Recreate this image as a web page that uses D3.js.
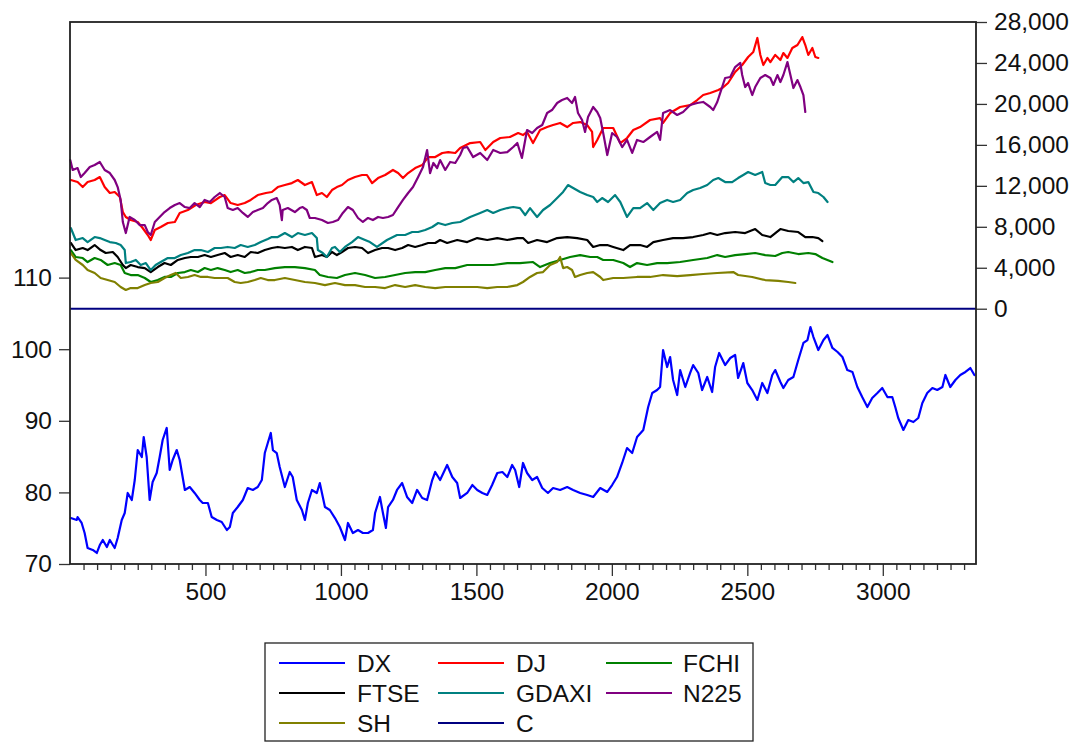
<!DOCTYPE html>
<html>
<head>
<meta charset="utf-8">
<script src="https://cdn.jsdelivr.net/npm/d3@7"></script>
<style>
  html, body { margin: 0; padding: 0; background: #fff; }
  svg { display: block; }
  text { font-family: "Liberation Sans", Arial, sans-serif; font-size: 24.5px; fill: #111; }
</style>
</head>
<body>
<svg id="chart" width="1082" height="743"></svg>
<script>
// Observation number and value pairs for each series.
// DX is on the left axis, the stock indices and C on the right axis.
const DX = [
  [3,76.42],[25,76.15],[28,76.56],[43,75.73],[54,74.33],[65,72.23],[84,71.96],[99,71.54],[110,72.65],[121,73.35],
  [136,72.37],[147,73.35],[165,72.23],[176,73.63],[191,76.15],[202,77.12],[213,79.92],[228,78.94],
  [239,81.73],[250,85.92],[265,84.94],[272,87.74],[283,84.94],[294,78.94],[305,81.45],[320,82.71],[331,84.94],
  [342,87.32],[357,89.00],[368,83.13],[379,84.53],[394,85.92],[405,84.53],[424,80.34],[442,80.75],[460,79.92],[479,78.94],
  [490,78.52],[509,78.52],[523,76.56],[542,76.15],[560,75.87],[579,74.75],[590,75.17],[601,77.12],[619,77.96],[638,78.94],
  [656,80.61],[675,80.34],[693,80.75],[708,81.73],[719,85.50],[730,86.90],[741,88.30],[749,85.92],[763,85.50],
  [774,83.55],[793,80.75],[811,82.85],[822,82.15],[837,78.94],[856,77.54],[867,76.15],[878,78.52],[893,80.34],[911,79.92],
  [922,81.31],[941,77.96],[959,77.54],[978,76.42],[996,75.17],[1015,73.35],[1026,75.73],[1044,74.33],[1063,74.75],
  [1081,74.33],[1100,74.33],[1118,74.75],[1126,77.12],[1144,79.36],[1155,77.12],[1166,75.03],[1174,77.96],[1192,78.94],
  [1207,80.34],[1226,81.31],[1244,79.36],[1263,78.52],[1281,80.34],[1300,79.22],[1318,78.94],[1337,81.73],[1348,82.85],
  [1366,81.73],[1392,83.83],[1411,82.15],[1429,81.31],[1440,79.22],[1466,79.92],[1485,81.03],[1503,80.34],[1522,79.92],[1540,79.64],
  [1558,81.03],[1577,82.71],[1596,82.85],[1614,82.15],[1632,83.83],[1643,83.13],[1658,80.75],[1672,84.11],[1687,82.71],[1706,81.73],
  [1724,82.15],[1743,80.61],[1764,79.92],[1783,80.61],[1809,80.34],[1835,80.75],[1857,80.34],[1883,79.92],[1909,79.64],
  [1931,79.36],[1957,80.61],[1983,80.06],[2001,81.03],[2019,82.15],[2038,84.11],[2056,86.20],[2075,85.50],[2093,87.74],
  [2116,88.72],[2134,91.93],[2149,93.88],[2167,94.30],[2178,94.72],[2189,99.89],[2204,97.51],[2215,98.91],[2226,95.70],
  [2241,93.60],[2252,97.09],[2271,94.72],[2289,96.68],[2300,97.79],[2319,96.68],[2333,94.30],[2352,96.12],[2370,94.02],[2381,97.51],
  [2396,99.47],[2418,97.79],[2437,98.77],[2455,99.19],[2466,95.98],[2485,98.07],[2500,95.28],[2518,94.30],[2537,92.91],
  [2555,95.28],[2574,93.88],[2592,96.40],[2603,97.09],[2622,95.42],[2633,94.58],[2651,95.70],[2670,96.12],[2688,98.49],
  [2707,100.87],[2722,101.28],[2733,103.10],[2744,101.70],[2762,99.89],[2781,101.28],[2796,101.98],[2814,100.17],[2833,99.61],
  [2851,98.91],[2869,97.09],[2888,96.82],[2906,94.72],[2924,93.32],[2943,91.93],[2961,93.18],[2980,93.88],[2998,94.58],[3017,93.32],
  [3035,93.32],[3046,91.93],[3057,90.39],[3076,88.72],[3094,90.11],[3113,89.83],[3131,90.39],[3146,92.49],[3164,93.88],
  [3183,94.58],[3201,94.30],[3220,94.72],[3231,96.40],[3249,94.72],[3268,95.70],[3286,96.40],[3305,96.82],[3323,97.37],[3338,96.40]
];

const DJ = [
  [3,12570],[28,12370],[47,11880],[65,12370],[91,12570],[110,12860],[128,11880],[147,11300],[165,11400],[184,10910],
  [195,9440],[206,8960],[224,8660],[250,8470],[268,7880],[287,7200],[298,6710],[313,7690],[335,7980],[361,8370],
  [387,8470],[405,9350],[435,9640],[464,10130],[497,10420],[520,10320],[553,10910],[571,11100],[593,10320],[619,10130],
  [645,10320],[667,10620],[693,11100],[723,11300],[745,11400],[767,11880],[793,12080],[819,12270],[841,12570],[867,12080],
  [893,12370],[911,11100],[930,11300],[948,10910],[967,11590],[985,11880],[1004,12080],[1026,12570],[1052,12860],[1078,13060],
  [1096,13060],[1115,12270],[1137,12760],[1163,13060],[1192,13550],[1211,13250],[1229,12760],[1248,13250],[1274,13740],[1300,14030],
  [1322,14810],[1348,14810],[1374,15210],[1396,15300],[1422,15210],[1440,15690],[1477,16180],[1514,16280],[1533,15500],[1562,16280],
  [1588,16670],[1624,16770],[1654,17160],[1672,16960],[1687,17260],[1709,16180],[1735,17450],[1761,17740],[1783,17940],[1809,18140],
  [1835,17740],[1857,18140],[1883,18230],[1909,17940],[1927,17260],[1931,15790],[1946,16480],[1968,17650],[2005,17650],[2031,16180],
  [2056,16670],[2079,17450],[2104,17740],[2141,18430],[2178,18620],[2189,18140],[2215,19110],[2252,19700],[2289,19890],[2315,20380],
  [2337,20870],[2363,21070],[2393,21360],[2407,21550],[2429,22040],[2455,23120],[2481,23800],[2503,24580],[2522,25070],[2537,26440],
  [2548,24780],[2559,23800],[2574,24490],[2585,24090],[2603,24780],[2622,24290],[2633,24970],[2648,24490],[2666,25460],[2685,25750],
  [2703,26530],[2714,25750],[2725,24780],[2740,25460],[2751,24580],[2762,24490]
];

const FCHI = [
  [3,5730],[21,5050],[47,4950],[65,4560],[91,4950],[113,4760],[139,4270],[165,4460],[187,4270],[202,3490],
  [224,3290],[250,3290],[276,3000],[298,2610],[324,2800],[349,3100],[372,3100],[398,3490],[424,3580],[446,3780],
  [472,3580],[497,3970],[520,3780],[545,3970],[571,3780],[593,3580],[619,3780],[645,3490],[667,3580],[693,3780],
  [719,3780],[756,3970],[793,4070],[830,4070],[867,3970],[904,3780],[922,3290],[952,3100],[985,3000],[1015,3290],
  [1052,3490],[1089,3290],[1126,3000],[1163,3100],[1200,3290],[1237,3490],[1274,3580],[1311,3580],[1348,3780],[1385,3970],
  [1422,3970],[1466,4270],[1514,4270],[1562,4270],[1614,4460],[1661,4460],[1709,4560],[1735,4070],[1772,4460],[1809,4760],
  [1846,5050],[1883,5240],[1920,5050],[1946,5050],[1968,4760],[2005,4760],[2042,4460],[2067,4070],[2093,4460],[2130,4270],
  [2167,4460],[2204,4460],[2252,4560],[2300,4760],[2352,4950],[2389,5240],[2418,5050],[2455,5240],[2492,5340],[2529,5440],
  [2566,5240],[2603,5150],[2629,5440],[2651,5540],[2688,5340],[2725,5440],[2751,5340],[2777,4950],[2814,4560]
];

const FTSE = [
  [3,6420],[21,5730],[47,5930],[65,5730],[91,6220],[113,5730],[132,5440],[158,5540],[176,5050],[195,4270],
  [206,3970],[224,4270],[250,4070],[276,3970],[298,3580],[324,4070],[349,4460],[372,4270],[398,4760],[424,4950],
  [446,5050],[472,5050],[497,5240],[520,5050],[545,5240],[571,5440],[593,5050],[619,5240],[645,5050],[667,5540],
  [693,5440],[719,5730],[745,5930],[767,6030],[793,5930],[819,6030],[841,5730],[867,6030],[893,5930],[904,5050],
  [930,5240],[948,5050],[967,5540],[985,5240],[1004,5540],[1026,5930],[1052,6030],[1078,5930],[1100,5440],[1126,5730],
  [1152,5930],[1174,5930],[1200,5730],[1226,5930],[1248,6220],[1274,6030],[1300,6220],[1322,6420],[1348,6420],[1366,6710],
  [1392,6420],[1429,6710],[1466,6510],[1503,6900],[1540,6710],[1577,6900],[1614,6710],[1651,6900],[1672,6900],[1691,6420],
  [1724,6710],[1761,6510],[1798,6900],[1835,7000],[1872,6900],[1909,6710],[1931,6030],[1957,6220],[1983,6220],[2005,6030],
  [2042,5730],[2067,6220],[2104,6220],[2130,6030],[2153,6510],[2189,6710],[2226,6900],[2263,6900],[2300,7000],[2337,7200],
  [2363,7390],[2389,7200],[2418,7390],[2455,7490],[2492,7390],[2529,7780],[2555,7200],[2585,7000],[2622,7780],[2651,7590],
  [2688,7490],[2714,7000],[2740,7000],[2762,6900],[2777,6610]
];

const GDAXI = [
  [3,7880],[21,6710],[47,6900],[65,6510],[91,7000],[110,6900],[128,6710],[147,6510],[169,6420],[187,6220],
  [202,5730],[206,4460],[224,4560],[243,4760],[261,4270],[280,4460],[298,3780],[316,4270],[335,4560],[361,4950],
  [387,4950],[409,5240],[435,5440],[460,5730],[483,5730],[509,5540],[534,5930],[557,5930],[582,6030],[608,5930],
  [630,6220],[656,6030],[682,6220],[704,6510],[730,6810],[745,7000],[767,7000],[793,7390],[819,7000],[841,7390],
  [867,7200],[893,7390],[911,6900],[915,5730],[933,5440],[948,5050],[967,5930],[978,6030],[996,5540],[1015,6030],
  [1041,6510],[1063,7000],[1089,6710],[1107,6510],[1133,6030],[1170,6710],[1207,7200],[1237,7200],[1263,7490],[1285,7490],
  [1311,7690],[1337,7980],[1359,8370],[1385,8170],[1411,8370],[1440,8470],[1477,8960],[1514,9350],[1540,9640],[1562,9350],
  [1588,9640],[1614,9830],[1636,9930],[1661,9830],[1680,9150],[1698,9830],[1724,8960],[1746,9640],[1772,10130],[1798,10810],
  [1820,11400],[1838,12080],[1857,11790],[1883,11400],[1909,11100],[1931,10910],[1946,10420],[1964,10810],[1986,10420],[2012,11100],
  [2031,10420],[2056,8960],[2079,9830],[2104,9830],[2130,10320],[2153,9640],[2178,10320],[2204,10620],[2226,10420],[2252,10620],
  [2278,11300],[2300,11590],[2326,11790],[2352,12080],[2374,12570],[2393,12760],[2418,12370],[2444,12370],[2466,12760],[2485,13060],
  [2503,13350],[2529,13060],[2555,13350],[2566,12270],[2585,12080],[2603,12080],[2629,12860],[2651,12860],[2670,12370],[2688,12760],
  [2707,12270],[2725,12370],[2744,11400],[2762,11300],[2781,10910],[2796,10420]
];

const N225 = [
  [1,14520],[10,13550],[28,13740],[40,12860],[54,13250],[73,13840],[91,14030],[110,14330],[128,13550],[147,13250],
  [165,12570],[176,11880],[187,10620],[195,8470],[206,7390],[220,8960],[239,8660],[257,8170],[276,8170],[287,7490],
  [298,7200],[313,8470],[331,8960],[349,9440],[368,9830],[387,10130],[405,10320],[424,9930],[442,9830],[460,10320],
  [479,9930],[497,10620],[516,10420],[534,10910],[553,11300],[571,10910],[582,9830],[601,9640],[619,9830],[638,9350],
  [656,8960],[675,9440],[693,9640],[712,9830],[730,10320],[745,10620],[763,10810],[774,10130],[782,8660],[785,9640],
  [804,9830],[830,9440],[848,9830],[859,9930],[874,9640],[885,8860],[904,8860],[930,8660],[952,8370],[970,8470],
  [989,8660],[1007,9350],[1026,9930],[1044,9640],[1063,8860],[1081,8470],[1100,8860],[1118,8660],[1137,8960],[1155,8860],
  [1174,8960],[1192,9150],[1211,9930],[1229,10620],[1248,11300],[1266,11880],[1285,12860],[1303,13840],[1318,15500],[1329,13250],
  [1341,14230],[1355,13740],[1366,14520],[1385,13550],[1403,14330],[1422,14230],[1440,15010],[1451,15690],[1466,15790],[1488,14810],
  [1514,15210],[1540,14520],[1562,15500],[1588,15210],[1614,15300],[1636,15790],[1651,16180],[1668,14720],[1687,17450],[1706,17160],
  [1724,17650],[1743,17940],[1761,19110],[1779,19400],[1798,20090],[1816,20380],[1835,20580],[1853,20090],[1864,20680],[1875,19110],
  [1890,18430],[1901,17260],[1912,18720],[1931,19700],[1946,19210],[1957,18620],[1968,17160],[1983,15010],[2001,17160],[2019,16770],
  [2038,15790],[2056,16480],[2075,15210],[2093,16480],[2116,16280],[2141,16770],[2167,17260],[2178,16480],[2189,19110],[2215,19400],
  [2241,18920],[2263,19210],[2289,19890],[2315,20090],[2337,20190],[2363,19700],[2374,19400],[2389,20190],[2400,21070],[2418,22530],
  [2437,22630],[2455,23600],[2474,24000],[2481,22820],[2492,21650],[2503,22040],[2518,20870],[2529,21650],[2548,22530],[2566,22820],
  [2585,22530],[2596,21850],[2611,22820],[2622,22140],[2633,22820],[2648,24090],[2659,22820],[2670,21550],[2685,22330],[2696,21650],
  [2707,20870],[2714,19210]
];

const SH = [
  [3,5440],[21,4760],[47,4270],[65,3780],[91,3490],[113,3000],[139,2800],[165,2610],[187,2120],[206,1830],
  [224,2020],[250,2020],[276,2310],[298,2510],[324,2610],[349,3000],[372,3290],[390,3490],[409,3000],[435,3100],
  [460,3290],[483,3100],[509,3100],[534,3000],[557,3000],[582,3000],[608,2610],[630,2510],[656,2610],[682,2800],
  [704,3000],[730,2800],[756,2800],[793,3000],[830,2800],[867,2610],[904,2510],[941,2310],[978,2510],[1015,2310],
  [1052,2310],[1089,2120],[1126,2120],[1163,2020],[1200,2310],[1237,2120],[1274,2310],[1311,2120],[1348,2020],[1385,2120],
  [1429,2120],[1466,2120],[1503,2120],[1540,2020],[1577,2120],[1614,2120],[1651,2310],[1672,2610],[1698,3100],[1724,3490],
  [1746,3580],[1772,4270],[1798,4560],[1809,5050],[1820,3970],[1835,4070],[1853,3780],[1864,3100],[1883,3290],[1909,3490],
  [1931,3580],[1957,3100],[1968,2800],[2005,3000],[2042,3000],[2093,3100],[2141,3100],[2189,3290],[2241,3190],[2289,3290],
  [2337,3390],[2389,3490],[2448,3580],[2466,3290],[2518,3100],[2566,2800],[2614,2710],[2651,2610],[2677,2510]
];

// Constant series C, plotted as a flat line across every observation.
const C_VALUE = [0];

const OBS_TICKS_MAJOR = [500, 1000, 1500, 2000, 2500, 3000];
const LEFT_TICKS = [70, 80, 90, 100, 110];
const RIGHT_TICKS = [0, 4000, 8000, 12000, 16000, 20000, 24000, 28000];

const NOBS = 3344;
const LEFT_DOMAIN = [70, 145.7];
const RIGHT_DOMAIN = [-24930, 28000];

const legendItems = [
  { name: "DX", color: "#0000ff" },
  { name: "DJ", color: "#ff0000" },
  { name: "FCHI", color: "#008000" },
  { name: "FTSE", color: "#000000" },
  { name: "GDAXI", color: "#008080" },
  { name: "N225", color: "#800080" },
  { name: "SH", color: "#808000" },
  { name: "C", color: "#000080" }
];
const colorOf = Object.fromEntries(legendItems.map(d => [d.name, d.color]));

// ---- layout ----
const plot = { left: 70, right: 976, top: 22, bottom: 564 };
const FONT = '"Liberation Sans", Arial, sans-serif';
const svg = d3.select("#chart");

svg.append("rect").attr("width", 1082).attr("height", 743).attr("fill", "#fff");

const x = d3.scaleLinear().domain([0, NOBS]).range([plot.left, plot.right]);
const yL = d3.scaleLinear().domain(LEFT_DOMAIN).range([plot.bottom, plot.top]);
const yR = d3.scaleLinear().domain(RIGHT_DOMAIN).range([plot.bottom, plot.top]);

// ---- axes ----
const minorTicks = d3.range(50, NOBS, 50).filter(v => v % 500 !== 0);

const xMinor = svg.append("g")
  .attr("transform", `translate(0,${plot.bottom})`)
  .call(d3.axisBottom(x).tickValues(minorTicks).tickSize(6).tickFormat(""));
const xMajor = svg.append("g")
  .attr("transform", `translate(0,${plot.bottom})`)
  .call(d3.axisBottom(x).tickValues(OBS_TICKS_MAJOR).tickSize(12).tickPadding(7).tickFormat(d3.format("d")));

const left = svg.append("g")
  .attr("transform", `translate(${plot.left},0)`)
  .call(d3.axisLeft(yL).tickValues(LEFT_TICKS).tickSize(11).tickPadding(7).tickFormat(d3.format("d")));

const right = svg.append("g")
  .attr("transform", `translate(${plot.right},0)`)
  .call(d3.axisRight(yR).tickValues(RIGHT_TICKS).tickSize(11).tickPadding(7).tickFormat(d3.format(",")));

[xMinor, xMajor, left, right].forEach(g => {
  g.select(".domain").remove();
  g.selectAll(".tick line").attr("stroke", "#333").attr("stroke-width", 1.3);
  g.selectAll(".tick text")
    .attr("fill", "#111")
    .style("font-family", FONT)
    .style("font-size", "24.5px");
});

// ---- series ----
const lineR = d3.line().x(d => x(d[0])).y(d => yR(d[1]));
const lineL = d3.line().x(d => x(d[0])).y(d => yL(d[1]));

const series = svg.append("g")
  .attr("fill", "none")
  .attr("stroke-width", 2.2)
  .attr("stroke-linejoin", "round")
  .attr("stroke-linecap", "round");

series.append("path").datum(DX).attr("stroke", colorOf.DX).attr("d", lineL);

[["DJ", DJ], ["FCHI", FCHI], ["FTSE", FTSE], ["GDAXI", GDAXI], ["N225", N225], ["SH", SH]]
  .forEach(([name, data]) => {
    series.append("path").datum(data).attr("stroke", colorOf[name]).attr("d", lineR);
  });

// C spans the full sample at its constant value
series.append("path")
  .datum([[0, C_VALUE[0]], [NOBS, C_VALUE[0]]])
  .attr("stroke", colorOf.C)
  .attr("stroke-width", 2)
  .attr("stroke-linecap", "butt")
  .attr("d", lineR);

// ---- frame ----
svg.append("rect")
  .attr("x", plot.left).attr("y", plot.top)
  .attr("width", plot.right - plot.left).attr("height", plot.bottom - plot.top)
  .attr("fill", "none").attr("stroke", "#222").attr("stroke-width", 1.8);

// ---- legend ----
const lg = svg.append("g");
lg.append("rect")
  .attr("x", 265).attr("y", 643).attr("width", 488).attr("height", 98)
  .attr("fill", "#fff").attr("stroke", "#222").attr("stroke-width", 1.3);

const colLine = [279, 438, 606];
const colText = [357, 516, 683];
const rowY = [663, 693, 723];
const lineLen = 66;

legendItems.forEach((d, i) => {
  const c = i % 3, r = Math.floor(i / 3);
  lg.append("line")
    .attr("x1", colLine[c]).attr("x2", colLine[c] + lineLen)
    .attr("y1", rowY[r]).attr("y2", rowY[r])
    .attr("stroke", d.color).attr("stroke-width", 2);
  lg.append("text")
    .attr("x", colText[c]).attr("y", rowY[r] + 9)
    .style("font-family", FONT)
    .style("font-size", "24.5px")
    .text(d.name);
});
</script>
</body>
</html>
